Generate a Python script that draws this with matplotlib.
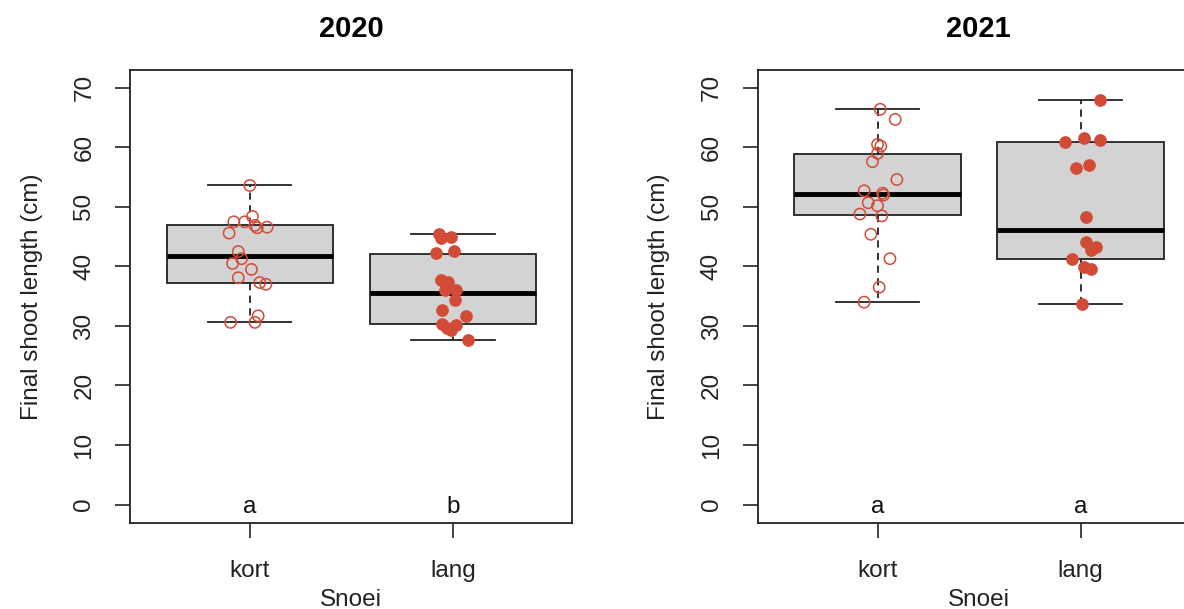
import matplotlib
matplotlib.use("Agg")
import matplotlib.pyplot as plt

plt.rcParams['font.family'] = ['Liberation Sans', 'DejaVu Sans']

groups = ["kort", "lang"]
years = ["2020", "2021"]
letters = {"2020": ["a", "b"], "2021": ["a", "a"]}

# observed values (cm)
kort_2020 = [53.6, 48.4, 47.5, 47.5, 46.9, 46.5, 46.6, 45.6, 42.5, 41.3, 40.5, 39.5, 38.1, 37.3, 37.0, 31.7, 30.6, 30.6]
kort_2020_jit = [0.0, 0.013, -0.079, -0.025, 0.025, 0.036, 0.085, -0.102, -0.057, -0.041, -0.085, 0.008, -0.057, 0.049, 0.079, 0.041, 0.025, -0.095]
lang_2020 = [45.4, 44.7, 44.9, 42.2, 42.6, 37.8, 37.4, 36.0, 36.0, 34.4, 32.6, 31.6, 30.4, 29.6, 29.3, 30.1, 27.7]
lang_2020_jit = [-0.069, -0.057, -0.008, -0.085, 0.003, -0.057, -0.025, -0.041, 0.016, 0.008, -0.052, 0.066, -0.052, -0.030, -0.008, 0.016, 0.074]
kort_2021 = [66.4, 64.7, 60.5, 60.2, 59.0, 57.6, 54.6, 52.7, 52.3, 52.0, 50.7, 50.2, 48.8, 48.5, 45.4, 41.3, 36.5, 34.0]
kort_2021_jit = [0.013, 0.087, 0.0, 0.016, 0.0, -0.025, 0.095, -0.066, 0.025, 0.030, -0.046, 0.0, -0.087, 0.021, -0.033, 0.061, 0.008, -0.066]
lang_2021 = [68.0, 60.9, 61.6, 61.3, 56.5, 57.0, 48.3, 44.1, 43.3, 42.7, 41.3, 39.9, 39.5, 33.7]
lang_2021_jit = [0.095, -0.079, 0.016, 0.093, -0.025, 0.041, 0.025, 0.025, 0.074, 0.049, -0.041, 0.016, 0.049, 0.005]

# box statistics (whislo, q1, med, q3, whishi)
box_2020 = [(30.6, 37.3, 41.8, 46.9, 53.6), (27.7, 30.3, 35.5, 42.1, 45.4)]
box_2021 = [(34.0, 48.6, 52.1, 58.9, 66.4), (33.7, 41.3, 46.2, 60.9, 68.0)]

yticks = [0, 10, 20, 30, 40, 50, 60, 70]

red = "#D24B36"
W, H = 1184, 609
fig = plt.figure(figsize=(W / 100, H / 100), dpi=100)

panels = [
    ("2020", box_2020, [(kort_2020, kort_2020_jit), (lang_2020, lang_2020_jit)], 130),
    ("2021", box_2021, [(kort_2021, kort_2021_jit), (lang_2021, lang_2021_jit)], 757.7),
]

fs = 17.5
for year, boxes, pts, left_px in panels:
    ax = fig.add_axes([left_px / W, (609 - 522.7) / H, 442 / W, 452.7 / H])
    stats = []
    for g, (lo, q1, med, q3, hi) in zip(groups, boxes):
        stats.append(dict(label=g, whislo=lo, q1=q1, med=med, q3=q3, whishi=hi, fliers=[]))
    ax.bxp(stats, positions=[1, 2], widths=0.82, patch_artist=True, showfliers=False,
           boxprops=dict(facecolor="#D3D3D3", edgecolor="#222222", linewidth=1.3),
           medianprops=dict(color="black", linewidth=3.5, solid_capstyle="butt"),
           whiskerprops=dict(color="#222222", linewidth=1.3, linestyle=(0, (4, 3))),
           capprops=dict(color="#222222", linewidth=1.3), capwidths=0.41, zorder=2)
    for i, (vals, jit) in enumerate(pts):
        xs = [i + 1 + j for j in jit]
        if i == 0:
            ax.scatter(xs, vals, s=66, facecolors="none", edgecolors=red, linewidths=1.1, zorder=3)
        else:
            ax.scatter(xs, vals, s=66, color=red, edgecolors=red, linewidths=1.0, zorder=3)
    for i, lt in enumerate(letters[year]):
        ax.text(i + 1, 0, lt, ha="center", va="center_baseline", fontsize=fs, color="#111111")
    ax.set_xlim(0.41, 2.586)
    ax.set_ylim(-3.05, 73.0)
    ax.set_xticks([1, 2])
    ax.set_xticklabels(groups)
    ax.set_yticks(yticks)
    ax.set_yticklabels([str(v) for v in yticks], rotation=90, va="center")
    ax.tick_params(axis="both", length=11, width=1.2, labelsize=fs, color="#222222", labelcolor="#222222")
    ax.tick_params(axis="y", pad=14)
    ax.tick_params(axis="x", pad=16)
    for sp in ax.spines.values():
        sp.set_linewidth(1.3)
        sp.set_color("#222222")
    ax.set_xlabel("Snoei", fontsize=fs, color="#222222", labelpad=5)
    ax.set_ylabel("Final shoot length (cm)", fontsize=fs, color="#222222", labelpad=22)
    ax.set_title(year, fontsize=21, fontweight="bold", pad=24)

fig.savefig("out.png", dpi=100)
